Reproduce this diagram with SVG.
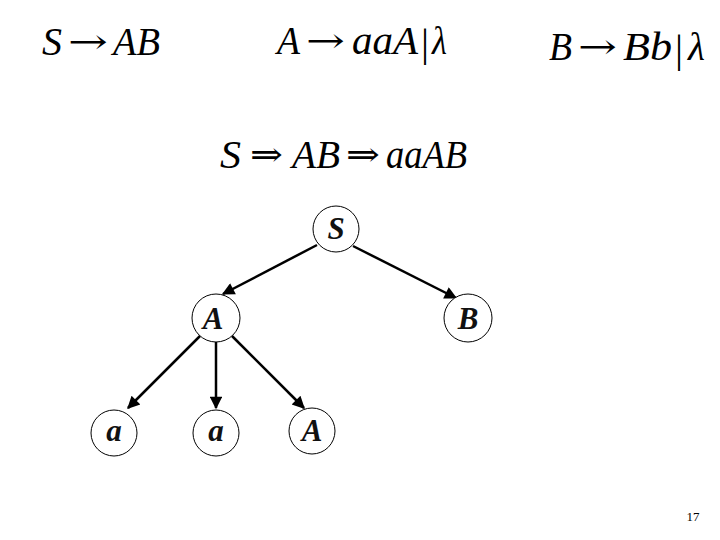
<svg xmlns="http://www.w3.org/2000/svg" width="720" height="540" viewBox="0 0 720 540">
<style>
.t{font-family:"Liberation Serif","Times New Roman",serif;font-style:italic;font-size:40px;fill:#000}
.bar{font-family:"Liberation Serif","Times New Roman",serif;font-size:40px;fill:#000}
.ar{font-family:"DejaVu Serif","Liberation Serif",serif;font-size:34px;fill:#000}
.lbl{font-family:"Liberation Serif","Times New Roman",serif;font-style:italic;font-weight:bold;font-size:31px;text-anchor:middle;fill:#111}
circle{fill:#fff;stroke:#000;stroke-width:1}
.e{stroke:#000;stroke-width:2.5;fill:none;marker-end:url(#ah)}
</style>
<defs>
<marker id="ah" viewBox="0 0 10 10" refX="9" refY="5" markerWidth="6" markerHeight="5" orient="auto" markerUnits="strokeWidth">
<path d="M0,0 L10,5 L0,10 z" fill="#000"/>
</marker>
</defs>
<rect width="720" height="540" fill="#fff"/>
<text class="t" x="42" y="55" textLength="20" lengthAdjust="spacingAndGlyphs">S</text>
<text class="ar" x="68" y="53" textLength="40" lengthAdjust="spacingAndGlyphs">→</text>
<text class="t" x="113" y="55" textLength="47" lengthAdjust="spacingAndGlyphs">AB</text>
<text class="t" x="277" y="54" textLength="23" lengthAdjust="spacingAndGlyphs">A</text>
<text class="ar" x="306" y="52" textLength="39" lengthAdjust="spacingAndGlyphs">→</text>
<text class="t" x="352" y="54" textLength="66" lengthAdjust="spacingAndGlyphs">aaA</text>
<text class="bar" x="421" y="56">|</text>
<text class="t" x="432" y="54" textLength="15" lengthAdjust="spacingAndGlyphs">λ</text>
<text class="t" x="549" y="60" textLength="23" lengthAdjust="spacingAndGlyphs">B</text>
<text class="ar" x="578" y="58" textLength="39" lengthAdjust="spacingAndGlyphs">→</text>
<text class="t" x="623" y="60" textLength="49" lengthAdjust="spacingAndGlyphs">Bb</text>
<text class="bar" x="675" y="62">|</text>
<text class="t" x="688" y="60" textLength="17" lengthAdjust="spacingAndGlyphs">λ</text>
<text class="t" x="220" y="168" textLength="21" lengthAdjust="spacingAndGlyphs">S</text>
<text class="ar" x="250" y="166" textLength="33" lengthAdjust="spacingAndGlyphs">⇒</text>
<text class="t" x="292" y="168" textLength="48" lengthAdjust="spacingAndGlyphs">AB</text>
<text class="ar" x="346" y="166" textLength="34" lengthAdjust="spacingAndGlyphs">⇒</text>
<text class="t" x="386" y="168" textLength="81" lengthAdjust="spacingAndGlyphs">aaAB</text>
<g id="connectors">
<line class="e" x1="317" y1="245" x2="223" y2="294"/>
<line class="e" x1="353" y1="246" x2="456" y2="298"/>
<line class="e" x1="200" y1="336" x2="128" y2="408"/>
<line class="e" x1="216" y1="342" x2="216" y2="408"/>
<line class="e" x1="232" y1="336" x2="304" y2="408"/>
</g>
<g id="node-S"><circle cx="336" cy="229" r="23"/><text class="lbl" x="336" y="239">S</text></g>
<g id="node-A"><circle cx="216" cy="318" r="24"/><text class="lbl" x="213" y="329">A</text></g>
<g id="node-B"><circle cx="468" cy="318" r="24"/><text class="lbl" x="468" y="329">B</text></g>
<g id="node-a1"><circle cx="114" cy="433" r="23"/><text class="lbl" x="114" y="441">a</text></g>
<g id="node-a2"><circle cx="216" cy="433" r="23"/><text class="lbl" x="216" y="441">a</text></g>
<g id="node-A2"><circle cx="312" cy="431" r="23"/><text class="lbl" x="312" y="441">A</text></g>
<text x="693" y="521" font-family="Liberation Serif, serif" font-size="13" text-anchor="middle">17</text>
</svg>
